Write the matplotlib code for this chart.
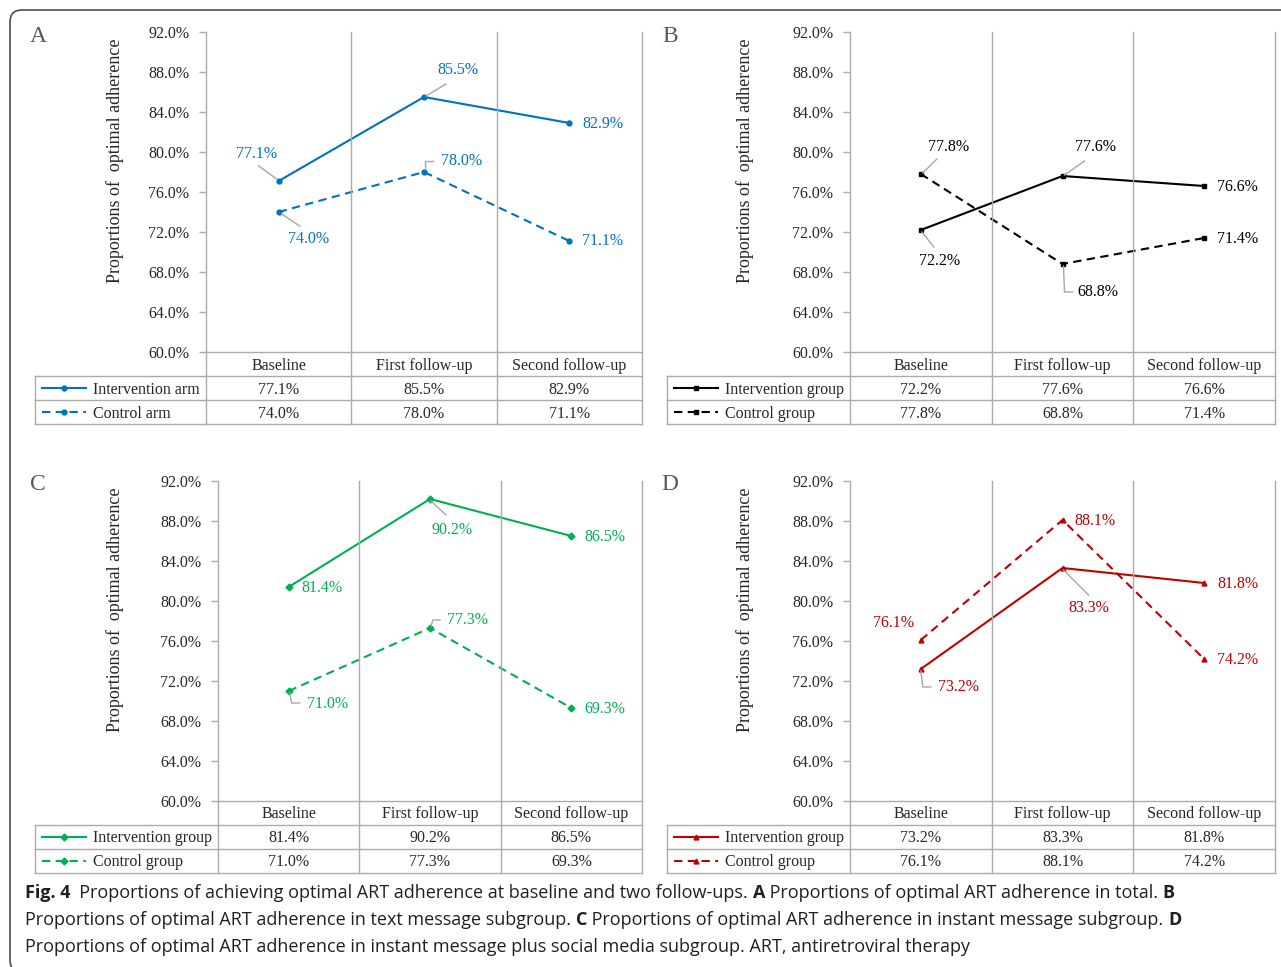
import matplotlib
matplotlib.use('Agg')
import matplotlib.pyplot as plt
from matplotlib.lines import Line2D
from matplotlib.patches import FancyBboxPatch
from matplotlib.transforms import IdentityTransform

W, H = 1281, 967

categories = ['Baseline', 'First follow-up', 'Second follow-up']
y_ticks = [60, 64, 68, 72, 76, 80, 84, 88, 92]

# A: total
a_names = ['Intervention arm', 'Control arm']
a_int = [77.1, 85.5, 82.9]
a_ctl = [74.0, 78.0, 71.1]
# B: text message subgroup
b_names = ['Intervention group', 'Control group']
b_int = [72.2, 77.6, 76.6]
b_ctl = [77.8, 68.8, 71.4]
# C: instant message subgroup
c_names = ['Intervention group', 'Control group']
c_int = [81.4, 90.2, 86.5]
c_ctl = [71.0, 77.3, 69.3]
# D: instant message plus social media subgroup
d_names = ['Intervention group', 'Control group']
d_int = [73.2, 83.3, 81.8]
d_ctl = [76.1, 88.1, 74.2]

SERIF = 'Liberation Serif'
GRID = '#ABABAB'
TXT = '#262626'

plt.rcParams['font.family'] = SERIF

fig = plt.figure(figsize=(W / 100, H / 100), dpi=100)


def fx(x):
    return x / W


def fy(y):
    return 1 - y / H


def seg(xs, ys, color=GRID, lw=1.0):
    fig.add_artist(Line2D([fx(x) for x in xs], [fy(y) for y in ys],
                          transform=fig.transFigure, color=color, lw=lw))


def panel(letter, box, table_left, ylab_x, names, series, color, marker, labels):
    left, right, top, bottom = box
    ax = fig.add_axes([fx(left), fy(bottom), (right - left) / W, (bottom - top) / H])
    ax.set_xlim(0, 3)
    ax.set_ylim(60, 92)
    for sp in ax.spines.values():
        sp.set_visible(False)
    ax.set_xticks([])
    ax.set_yticks(y_ticks)
    ax.set_yticklabels(['%.1f%%' % v for v in y_ticks], fontsize=11.5, color=TXT)
    ax.tick_params(axis='y', direction='out', length=5, width=1, color=GRID, pad=7)
    ax.patch.set_alpha(0)

    xs = [0.5, 1.5, 2.5]
    styles = [dict(ls='-'), dict(ls='--', dashes=(4, 2.6))]
    for vals, st in zip(series, styles):
        ax.plot(xs, vals, color=color, lw=1.5, marker=marker, ms=3.5,
                clip_on=False, zorder=3, **st)

    # data labels with grey leader lines (offsets in pixels, y downwards)
    for vals, lab in zip(series, labels):
        for x, v, (dx, dy, ha, lead) in zip(xs, vals, lab):
            ax.annotate('%.1f%%' % v, (x, v), xytext=(dx, -dy),
                        textcoords='offset pixels', ha=ha, va='center',
                        fontsize=11.5, color=color)
            if lead:
                px, py = ax.transData.transform((x, v))
                fig.add_artist(Line2D([px + p[0] for p in lead],
                                      [py - p[1] for p in lead],
                                      transform=IdentityTransform(),
                                      color='#A6A6A6', lw=1))

    # grid / table lines
    rh = 24
    col_w = (right - left) / 3
    for i in range(4):
        seg([left + i * col_w] * 2, [top, bottom + 3 * rh])
    seg([left, right], [bottom, bottom])
    for k in (1, 2, 3):
        seg([table_left, right], [bottom + k * rh] * 2)
    seg([table_left, table_left], [bottom + rh, bottom + 3 * rh])

    for i, c in enumerate(categories):
        cx = left + (i + 0.5) * col_w
        fig.text(fx(cx), fy(bottom + rh / 2 + 1.5), c, ha='center', va='center',
                 fontsize=11.5, color=TXT)
        for r, vals in enumerate(series):
            fig.text(fx(cx), fy(bottom + rh * (r + 1.5) + 1.5), '%.1f%%' % vals[i],
                     ha='center', va='center', fontsize=11.5, color=TXT)

    for r, (name, st) in enumerate(zip(names, styles)):
        yy = bottom + rh * (r + 1.5)
        fig.add_artist(Line2D([fx(table_left + 7), fx(table_left + 51)], [fy(yy)] * 2,
                              transform=fig.transFigure, color=color, lw=1.5,
                              **st))
        fig.add_artist(Line2D([fx(table_left + 29)], [fy(yy)], transform=fig.transFigure,
                              color=color, marker=marker, ms=3.5, ls='none'))
        fig.text(fx(table_left + 58), fy(yy + 1.5), name, ha='left', va='center',
                 fontsize=11.5, color=TXT)

    # axis title and panel letter
    fig.text(fx(ylab_x), fy(top + 129), 'Proportions of  optimal adherence',
             rotation=90, ha='center', va='center', fontsize=13, color=TXT)
    fig.text(fx(table_left + 3), fy(top + 4), letter, ha='center', va='center',
             fontsize=17, color='#595959')
    return ax


panel('A', (206, 642, 32, 352), 35, 115, a_names, [a_int, a_ctl], '#0070C0', 'o',
      [[(-22, -27, 'center', [(-2, -2), (-20, -15)]),
        (34, -27, 'center', [(2, -1), (22, -13)]),
        (13, 1, 'left', None)],
       [(30, 27, 'center', [(3, 2), (21, 14)]),
        (17, -11, 'left', [(1, -3), (1, -11), (9, -11)]),
        (13, 0, 'left', None)]])

panel('B', (850, 1275, 32, 352), 667, 745, b_names, [b_int, b_ctl], '#000000', 's',
      [[(19, 31, 'center', [(1, 2), (13, 17)]),
        (33, -29, 'center', [(2, -1), (22, -15)]),
        (13, 1, 'left', None)],
       [(28, -27, 'center', [(2, -1), (16, -15)]),
        (15, 28, 'left', [(1, 2), (2, 28), (10, 28)]),
        (13, 1, 'left', None)]])

panel('C', (218, 642, 481, 801), 35, 115, c_names, [c_int, c_ctl], '#00B050', 'D',
      [[(13, 1, 'left', None),
        (22, 31, 'center', [(1, 2), (16, 16)]),
        (13, 1, 'left', None)],
       [(18, 13, 'left', [(1, 2), (3, 12), (11, 12)]),
        (17, -8, 'left', [(1, -2), (3, -8), (10, -8)]),
        (13, 1, 'left', None)]])

panel('D', (850, 1275, 481, 801), 667, 745, d_names, [d_int, d_ctl], '#C00000', '^',
      [[(17, 18, 'left', [(0, 2), (2, 18), (10, 18)]),
        (26, 40, 'center', [(1, 2), (26, 27)]),
        (13, 1, 'left', None)],
       [(-27, -17, 'center', None),
        (12, 1, 'left', None),
        (13, 1, 'left', None)]])

# outer rounded frame
fig.add_artist(FancyBboxPatch((10, H - 972), 1320, 962,
                              boxstyle='round,pad=0,rounding_size=12',
                              transform=IdentityTransform(), fill=False,
                              edgecolor='#4D4D4D', lw=1.2))

# caption with bold runs
CAP = 'Open Sans'
caption = [
    [('Fig. 4', True), ('  Proportions of achieving optimal ART adherence at baseline and two follow-ups. ', False),
     ('A', True), (' Proportions of optimal ART adherence in total. ', False), ('B', True)],
    [('Proportions of optimal ART adherence in text message subgroup. ', False), ('C', True),
     (' Proportions of optimal ART adherence in instant message subgroup. ', False), ('D', True)],
    [('Proportions of optimal ART adherence in instant message plus social media subgroup. ART, antiretroviral therapy', False)],
]
renderer = fig.canvas.get_renderer()
for k, line in enumerate(caption):
    x = 25
    y = 893 + 27 * k
    for txt, bold in line:
        t = fig.text(fx(x), fy(y), txt, ha='left', va='center', fontsize=13.0,
                     family=CAP, fontweight='bold' if bold else 'normal', color='#231F20')
        x += t.get_window_extent(renderer).width

fig.savefig('out.png', dpi=100)
